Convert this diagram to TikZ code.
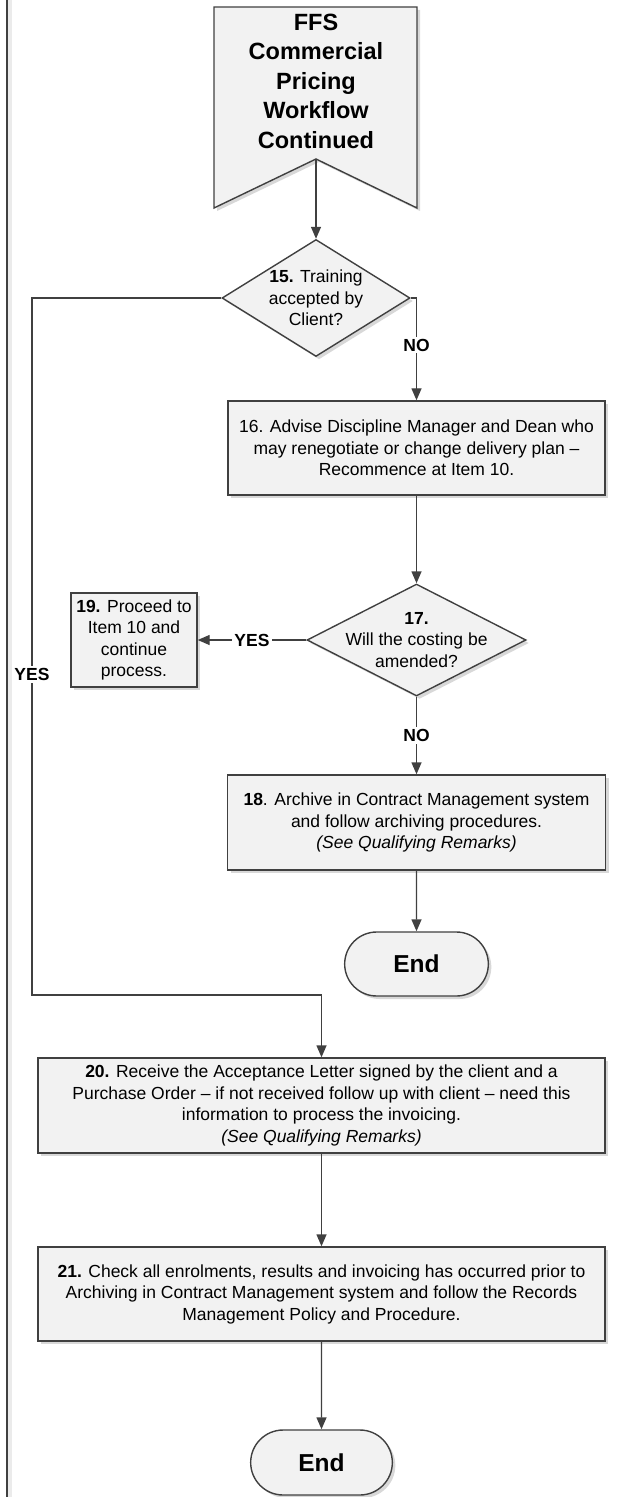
\documentclass[tikz,border=0pt]{standalone}
\usepackage{fontspec}
\setmainfont{Liberation Sans}
\usetikzlibrary{shapes.geometric, shapes.misc, arrows.meta, positioning, shadows}

\begin{document}
\begin{tikzpicture} [
        x = 0.5pt, y = -0.5pt,
        node distance = 40pt, on grid,
        every node/.style = {font=\fontsize{8.75}{10.75}\selectfont},
        boxed/.style = {draw=black!75, line width=0.7pt, fill=black!5,
            drop shadow={shadow xshift=1.5pt, shadow yshift=-1.5pt, fill=black!30, opacity=0.5}},
        process/.style = {boxed, rectangle, align=center, inner sep=2pt, minimum width=283.5pt, minimum height=47pt},
        decision/.style = {boxed, diamond, inner sep=0pt},
        terminal/.style = {boxed, rounded rectangle, minimum width=78.5pt, minimum height=32pt,
            font=\fontsize{12.25}{14}\selectfont\bfseries},
        title/.style = {align=center, font=\fontsize{11.75}{14.75}\selectfont\bfseries},
        dtext/.style = {align=center},
        flow/.style = {draw=black!75, line width=0.7pt, -{Triangle[length=6pt, width=5pt]}},
        branch/.style = {fill=white, inner sep=1pt, font=\fontsize{8.75}{10}\selectfont\bfseries}
    ]

    \useasboundingbox (0,0) rectangle (632,1497);

    % lane border
    \fill[black!8] (8,0) rectangle (12,1497);
    \draw[black!75, line width=0.8pt] (7,0) -- (7,1497);

    % off-page reference
    \coordinate (notch) at (316,159);
    \draw[boxed] (214,7) -- (417,7) -- (417,208) -- (notch) -- (214,208) -- cycle;
    \node[title] (ffs) at (316,81) {FFS\\Commercial\\Pricing\\Workflow\\Continued};

    \node[decision, minimum width=94pt, minimum height=58.5pt,
        label={[dtext]center:{\textbf{15.} Training\\accepted by\\Client?}}] (d15) at (316,298) {};
    \node[process, minimum width=188.5pt, below right=75pt and 50.25pt of d15] (b16)
        {16. Advise Discipline Manager and Dean who\\may renegotiate or change delivery plan --\\Recommence at Item 10.};
    \node[decision, minimum width=109.5pt, minimum height=56pt, below=96pt of b16,
        label={[dtext]center:{\textbf{17.}\\Will the costing be\\amended?}}] (d17) {};
    \node[process, minimum width=63pt, left=141.25pt of d17] (b19)
        {\textbf{19.} Proceed to\\Item 10 and\\continue\\process.};
    \node[process, minimum width=189pt, minimum height=47.5pt, below=91.25pt of d17] (b18)
        {\textbf{18}. Archive in Contract Management system\\and follow archiving procedures.\\\textit{(See Qualifying Remarks)}};
    \node[terminal, below=70.75pt of b18] (e1) {End};
    \node[process, minimum height=47.5pt, below left=70.75pt and 47.5pt of e1] (b20)
        {\textbf{20.} Receive the Acceptance Letter signed by the client and a\\Purchase Order -- if not received follow up with client -- need this\\information to process the invoicing.\\\textit{(See Qualifying Remarks)}};
    \node[process, below=94.25pt of b20] (b21)
        {\textbf{21.} Check all enrolments, results and invoicing has occurred prior to\\Archiving in Contract Management system and follow the Records\\Management Policy and Procedure.};
    \node[terminal, minimum width=77.5pt, minimum height=32.5pt, below=84.25pt of b21] (e2) {End};
    \coordinate (yesturn) at (32,995);

    \path[flow] (notch) -- (d15);
    \path[flow] (d15.east) -| node[branch, pos=0.73] {NO} (b16.north);
    \path[flow] (d15.west) -| node[branch, pos=0.77] {YES} (yesturn) -| (b20.north);
    \path[flow] (b16) -- (d17);
    \path[flow] (d17.west) -- node[branch] {YES} (b19.east);
    \path[flow] (d17) -- node[branch] {NO} (b18);
    \path[flow] (b18) -- (e1);
    \path[flow] (b20) -- (b21);
    \path[flow] (b21) -- (e2);

\end{tikzpicture}
\end{document}
